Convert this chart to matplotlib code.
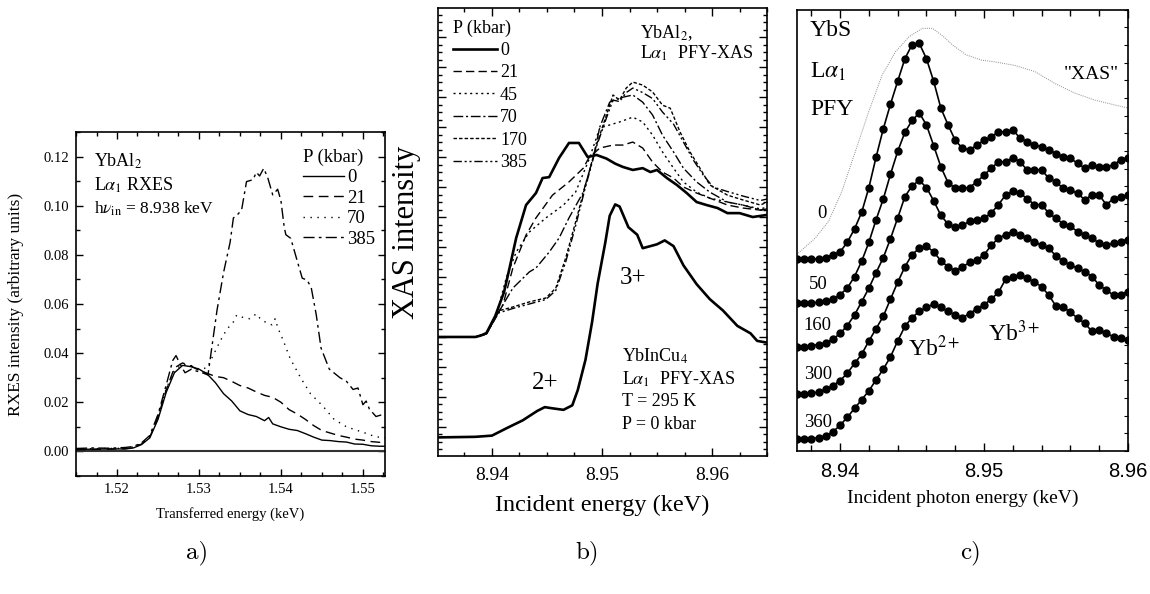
import matplotlib
matplotlib.use('Agg')
import matplotlib.pyplot as plt
from matplotlib.ticker import MultipleLocator, FormatStrFormatter

plt.rcParams['font.family'] = ['Liberation Serif', 'DejaVu Serif']
plt.rcParams['mathtext.fontset'] = 'stix'
plt.rcParams['xtick.direction'] = 'in'
plt.rcParams['ytick.direction'] = 'in'

# ---------------- panel a: RXES of YbAl2 ----------------
e_p0 = [1.515, 1.517, 1.519, 1.521, 1.522, 1.523, 1.524, 1.525, 1.526, 1.527, 1.528, 1.529,
        1.530, 1.531, 1.532, 1.533, 1.534, 1.535, 1.536, 1.537, 1.538, 1.5385, 1.539, 1.540,
        1.541, 1.542, 1.543, 1.544, 1.545, 1.546, 1.547, 1.548, 1.549, 1.550, 1.551, 1.552, 1.5527]
i_p0 = [0.0008, 0.0009, 0.0010, 0.0010, 0.0014, 0.0028, 0.0055, 0.0130, 0.0240, 0.0320, 0.0350, 0.0345,
        0.0335, 0.0315, 0.0280, 0.0235, 0.0205, 0.0165, 0.0150, 0.0142, 0.0125, 0.0138, 0.0112, 0.0100,
        0.0090, 0.0085, 0.0072, 0.0058, 0.0046, 0.0044, 0.0040, 0.0038, 0.0030, 0.0029, 0.0023, 0.0021, 0.0021]

e_p21 = [1.515, 1.517, 1.519, 1.521, 1.522, 1.523, 1.524, 1.525, 1.526, 1.527, 1.528, 1.529,
         1.530, 1.531, 1.532, 1.533, 1.534, 1.535, 1.536, 1.537, 1.538, 1.539, 1.540, 1.541,
         1.542, 1.543, 1.544, 1.545, 1.546, 1.547, 1.548, 1.549, 1.550, 1.551, 1.552, 1.5527]
i_p21 = [0.0007, 0.0008, 0.0009, 0.0011, 0.0015, 0.0030, 0.0058, 0.0140, 0.0250, 0.0340, 0.0360, 0.0348,
         0.0330, 0.0318, 0.0305, 0.0300, 0.0285, 0.0268, 0.0258, 0.0242, 0.0228, 0.0220, 0.0200, 0.0170,
         0.0152, 0.0130, 0.0105, 0.0085, 0.0075, 0.0065, 0.0058, 0.0050, 0.0046, 0.0040, 0.0037, 0.0037]

e_p70 = [1.515, 1.517, 1.519, 1.521, 1.522, 1.523, 1.524, 1.525, 1.526, 1.527, 1.528, 1.529,
         1.530, 1.531, 1.5317, 1.5326, 1.5334, 1.5342, 1.5346, 1.5354, 1.5362, 1.5370, 1.5376,
         1.5382, 1.5389, 1.5393, 1.5396, 1.5403, 1.5411, 1.5424, 1.5436, 1.5451, 1.5465, 1.5480,
         1.5500, 1.5515, 1.5527]
i_p70 = [0.0010, 0.0011, 0.0012, 0.0013, 0.0018, 0.0032, 0.0060, 0.0145, 0.0255, 0.0330, 0.0355, 0.0350,
         0.0335, 0.0340, 0.0389, 0.0450, 0.0497, 0.0527, 0.0555, 0.0545, 0.0540, 0.0560, 0.0535,
         0.0525, 0.0515, 0.0540, 0.0505, 0.0450, 0.0380, 0.0300, 0.0235, 0.0185, 0.0130, 0.0100,
         0.0078, 0.0060, 0.0055]

e_p385 = [1.515, 1.517, 1.519, 1.521, 1.522, 1.523, 1.524, 1.525, 1.526, 1.5268, 1.5272, 1.5277,
          1.5283, 1.5291, 1.5297, 1.5305, 1.5311, 1.5322, 1.5330, 1.5338, 1.5342, 1.5346, 1.5352,
          1.5358, 1.5366, 1.5370, 1.5374, 1.5379, 1.5384, 1.5390, 1.5396, 1.5400, 1.5404, 1.5406,
          1.5412, 1.5420, 1.5426, 1.5432, 1.5437, 1.5443, 1.5449, 1.5459, 1.5472, 1.5480, 1.5488,
          1.5494, 1.5500, 1.5504, 1.5508, 1.5516, 1.5524, 1.5527]
i_p385 = [0.0012, 0.0014, 0.0013, 0.0016, 0.0020, 0.0035, 0.0065, 0.0150, 0.0270, 0.0370, 0.0390, 0.0355,
          0.0320, 0.0335, 0.0327, 0.0319, 0.0311, 0.0574, 0.0728, 0.0851, 0.0950, 0.0960, 0.0982,
          0.1098, 0.1106, 0.1136, 0.1121, 0.1152, 0.1113, 0.1044, 0.1067, 0.1021, 0.0913, 0.0882,
          0.0867, 0.0774, 0.0705, 0.0697, 0.0666, 0.0558, 0.0420, 0.0335, 0.0300, 0.0285, 0.0252,
          0.0258, 0.0190, 0.0205, 0.0172, 0.0142, 0.0150, 0.0148]

# ---------------- panel b: PFY-XAS ----------------
e_b0 = [8.935, 8.9385, 8.9390, 8.9395, 8.9403, 8.9411, 8.9416, 8.9422, 8.9431, 8.9440, 8.9446, 8.9452,
        8.9461, 8.9470, 8.9479, 8.9487, 8.9495, 8.9504, 8.9512, 8.9519, 8.9528, 8.9537, 8.9544, 8.9550,
        8.9559, 8.9568, 8.9577, 8.9586, 8.9595, 8.9605, 8.9614, 8.9625, 8.9637, 8.9650]
i_b0 = [2.0, 2.0, 2.05, 2.13, 2.7, 3.5, 4.3, 5.3, 6.4, 6.8, 7.3, 7.33,
        7.97, 8.47, 8.47, 8.0, 8.07, 7.95, 7.78, 7.67, 7.57, 7.63, 7.5, 7.57,
        7.3, 7.07, 6.8, 6.5, 6.4, 6.3, 6.13, 6.13, 6.0, 6.07]

e_b21 = [8.935, 8.9385, 8.9395, 8.9410, 8.9419, 8.9431, 8.9440, 8.9455, 8.9470, 8.9483, 8.9488, 8.9498,
         8.9510, 8.9519, 8.9528, 8.9537, 8.9546, 8.9555, 8.9565, 8.9574, 8.9586, 8.9598, 8.9614, 8.9628,
         8.9644, 8.9650]
i_b21 = [2.0, 2.0, 2.13, 3.07, 4.3, 5.4, 5.97, 6.73, 7.17, 7.63, 7.97, 8.3,
         8.4, 8.4, 8.5, 8.3, 7.83, 7.5, 7.3, 7.0, 6.8, 6.63, 6.4, 6.3,
         6.23, 6.27]

e_b45 = [8.935, 8.9385, 8.9395, 8.9404, 8.9413, 8.9422, 8.9434, 8.9449, 8.9465, 8.9476, 8.9488, 8.9498,
         8.9507, 8.9516, 8.9528, 8.9537, 8.9546, 8.9555, 8.9565, 8.9574, 8.9586, 8.9598, 8.9614, 8.9628,
         8.9644, 8.9650]
i_b45 = [2.0, 2.0, 2.1, 2.73, 3.97, 4.83, 5.5, 5.97, 6.4, 6.83, 7.9, 8.97,
         9.07, 9.17, 9.33, 9.17, 8.73, 8.17, 7.63, 7.17, 6.83, 6.63, 6.5, 6.4,
         6.27, 6.33]

e_b70 = [8.935, 8.9385, 8.9395, 8.9406, 8.9419, 8.9434, 8.9440, 8.9452, 8.9461, 8.9470, 8.9483, 8.9492,
         8.9498, 8.9507, 8.9516, 8.9528, 8.9537, 8.9546, 8.9555, 8.9565, 8.9574, 8.9586, 8.9598, 8.9614,
         8.9628, 8.9644, 8.9650]
i_b70 = [2.0, 2.0, 2.1, 2.83, 3.63, 4.17, 4.3, 4.83, 5.3, 5.97, 6.83, 7.97,
         9.0, 9.83, 9.97, 10.07, 9.83, 9.4, 8.73, 8.17, 7.63, 7.17, 6.83, 6.5,
         6.4, 6.23, 6.27]

e_b170 = [8.935, 8.9385, 8.9395, 8.9406, 8.9419, 8.9434, 8.9449, 8.9458, 8.9467, 8.9476, 8.9485, 8.9495,
          8.9504, 8.9510, 8.9516, 8.9522, 8.9528, 8.9537, 8.9546, 8.9555, 8.9562, 8.9571, 8.9580, 8.9589,
          8.9598, 8.9614, 8.9628, 8.9644, 8.9650]
i_b170 = [2.0, 2.0, 2.1, 2.87, 3.0, 3.17, 3.3, 3.63, 4.63, 5.83, 7.07, 8.4,
          9.4, 10.07, 9.9, 10.3, 10.5, 10.4, 10.17, 9.73, 9.63, 8.83, 8.17, 7.63,
          7.07, 6.73, 6.57, 6.4, 6.5]

e_b385 = [8.935, 8.9385, 8.9395, 8.9406, 8.9419, 8.9434, 8.9449, 8.9458, 8.9467, 8.9476, 8.9485, 8.9495,
          8.9504, 8.9510, 8.9516, 8.9522, 8.9528, 8.9537, 8.9546, 8.9555, 8.9565, 8.9574, 8.9583, 8.9592,
          8.9601, 8.9614, 8.9628, 8.9644, 8.9650]
i_b385 = [2.0, 2.0, 2.1, 2.8, 2.95, 3.1, 3.25, 3.55, 4.5, 5.7, 7.0, 8.35,
          9.3, 9.9, 9.85, 10.15, 10.3, 10.15, 9.95, 9.5, 9.1, 8.5, 7.9, 7.4,
          7.0, 6.85, 6.7, 6.55, 6.6]

e_cu4 = [8.935, 8.9385, 8.9400, 8.9414, 8.9428, 8.9441, 8.9448, 8.9455, 8.9465, 8.9473, 8.9478, 8.9485,
         8.9491, 8.9496, 8.9503, 8.9507, 8.9512, 8.9516, 8.9524, 8.9532, 8.9537, 8.9544, 8.9550, 8.9557,
         8.9565, 8.9574, 8.9586, 8.9598, 8.9610, 8.9623, 8.9635, 8.9641, 8.9650]
i_cu4 = [-1.35, -1.33, -1.29, -1.03, -0.78, -0.47, -0.34, -0.38, -0.43, -0.28, 0.23, 1.24,
         2.5, 3.77, 5.15, 6.04, 6.42, 6.35, 5.66, 5.41, 4.96, 5.03, 5.09, 5.22,
         5.03, 4.39, 3.76, 3.26, 2.88, 2.37, 2.12, 1.87, 1.81]

# ---------------- panel c: YbS PFY ----------------
energy_c = [8.9370, 8.9375, 8.9380, 8.9385, 8.9390, 8.9395, 8.9400, 8.9405, 8.9410, 8.9415, 8.9420, 8.9425,
            8.9430, 8.9435, 8.9440, 8.9445, 8.9450, 8.9455, 8.9460, 8.9465, 8.9470, 8.9475, 8.9480, 8.9485,
            8.9490, 8.9495, 8.9500, 8.9505, 8.9510, 8.9515, 8.9520, 8.9525, 8.9530, 8.9535, 8.9540, 8.9545,
            8.9550, 8.9555, 8.9560, 8.9565, 8.9570, 8.9575, 8.9580, 8.9585, 8.9590, 8.9595, 8.9600]
pfy_0 = [43.4, 43.4, 43.4, 43.6, 43.8, 44.5, 45.1, 47.3, 50.3, 54.1, 59.7, 66.6, 73.0, 78.6, 83.8, 88.9,
         92.1, 92.4, 88.9, 83.8, 77.7, 73.9, 70.4, 68.6, 68.2, 69.3, 70.4, 71.2, 72.3, 72.3, 72.8, 70.9,
         70.1, 69.3, 69.0, 68.2, 67.4, 66.7, 66.3, 65.2, 64.1, 64.8, 64.4, 64.4, 64.8, 66.0, 66.3]
pfy_50 = [33.5, 33.5, 33.5, 33.7, 33.9, 34.4, 35.4, 36.9, 39.5, 43.0, 47.3, 52.4, 57.1, 62.7, 67.9, 72.2,
          74.9, 76.6, 73.9, 69.2, 64.4, 60.8, 59.5, 59.5, 59.7, 61.0, 62.5, 64.1, 65.5, 65.5, 66.5, 65.5,
          63.7, 63.7, 63.7, 61.8, 61.0, 59.5, 59.1, 58.4, 56.9, 58.0, 58.0, 55.8, 57.2, 57.6, 58.0]
pfy_160 = [23.6, 23.6, 23.8, 24.1, 24.5, 25.3, 26.6, 28.4, 30.8, 33.8, 36.9, 40.4, 43.8, 48.1, 52.8, 57.6,
           60.1, 61.3, 59.7, 56.7, 53.4, 51.4, 50.7, 51.2, 52.0, 52.3, 52.7, 53.9, 55.8, 58.0, 58.8, 58.4,
           57.2, 55.8, 55.8, 53.9, 52.7, 51.5, 50.9, 49.7, 49.0, 48.2, 47.1, 46.6, 47.1, 47.4, 47.8]
pfy_300 = [12.9, 12.9, 13.1, 13.3, 13.9, 14.8, 15.9, 17.6, 19.8, 21.9, 24.9, 27.7, 30.5, 34.4, 38.2, 41.7,
           44.5, 45.9, 46.4, 45.1, 43.1, 41.7, 40.8, 41.7, 42.7, 43.3, 44.4, 46.6, 48.2, 49.0, 49.7, 49.0,
           48.2, 47.4, 46.6, 45.9, 44.2, 43.0, 42.1, 41.4, 40.6, 39.5, 37.6, 36.4, 35.3, 35.3, 36.1]
pfy_360 = [2.6, 2.6, 2.7, 3.0, 3.4, 4.3, 5.8, 7.6, 9.6, 11.6, 13.6, 16.1, 18.5, 21.3, 24.9, 28.2,
           30.2, 31.6, 32.5, 33.3, 32.5, 31.6, 30.8, 30.2, 31.1, 32.2, 33.1, 34.4, 35.9, 38.9, 39.5, 39.8,
           39.1, 38.3, 37.2, 35.3, 32.8, 32.6, 31.4, 30.1, 28.9, 27.1, 27.4, 26.6, 25.9, 25.5, 25.1]
pressures_c = ['0', '50', '160', '300', '360']

xas_e = [8.93709, 8.93826, 8.93919, 8.94012, 8.94106, 8.94199, 8.94292, 8.94385, 8.94479, 8.94572,
         8.94642, 8.94712, 8.94782, 8.94875, 8.94980, 8.95073, 8.95213, 8.95353, 8.95492, 8.95632,
         8.95772, 8.95912, 8.96014]
xas_i = [44.8, 48.2, 52.0, 58.8, 67.9, 76.9, 85.2, 90.5, 93.9, 95.8,
         95.8, 94.1, 92.0, 89.8, 88.6, 88.2, 87.4, 86.0, 83.3, 81.1,
         79.5, 78.4, 77.6]

fig = plt.figure(figsize=(11.5, 5.94), dpi=100)

# ================= a =================
ax1 = fig.add_axes([0.0661, 0.1987, 0.2687, 0.5791])
ax1.axhline(0, color='#333333', lw=1.5)
ax1.plot(e_p0, i_p0, color='black', lw=1.0, ls='-', label='0')
ax1.plot(e_p21, i_p21, color='black', lw=1.0, ls=(0, (7, 4)), label='21')
ax1.plot(e_p70, i_p70, color='black', lw=1.0, ls=(0, (1, 4)), label='70')
ax1.plot(e_p385, i_p385, color='black', lw=1.0, ls=(0, (8, 3, 2, 3)), label='385')
ax1.set_xlim(1.515, 1.5527)
ax1.set_ylim(-0.01, 0.13)
ax1.xaxis.set_major_locator(MultipleLocator(0.01))
ax1.xaxis.set_minor_locator(MultipleLocator(0.0025))
ax1.xaxis.set_major_formatter(FormatStrFormatter('%.2f'))
ax1.yaxis.set_major_locator(MultipleLocator(0.02))
ax1.yaxis.set_minor_locator(MultipleLocator(0.01))
ax1.yaxis.set_major_formatter(FormatStrFormatter('%.2f'))
ax1.tick_params(which='both', top=True, right=True, labelsize=10.5, pad=5, width=1)
ax1.tick_params(which='major', length=5)
ax1.tick_params(which='minor', length=3)
ax1.set_xlabel('Transferred energy (keV)', fontsize=10.5, labelpad=8)
ax1.set_ylabel('RXES intensity (arbitrary units)', fontsize=12.5, labelpad=14)
for s in ax1.spines.values():
    s.set_linewidth(1.2)
ax1.text(1.5172, 0.1179, 'YbAl$_2$', fontsize=13, va='center')
ax1.text(1.5172, 0.1081, r'L$\alpha_1$ RXES', fontsize=13, va='center')
ax1.text(1.5172, 0.0988, r'h$\nu_{\rm in}$ = 8.938 keV', fontsize=12.5, va='center')
ax1.legend(title='P (kbar)', loc='upper left', bbox_to_anchor=(0.735, 0.952), frameon=False,
           fontsize=13.5, title_fontsize=13.5, handlelength=2.2, handletextpad=0.15,
           labelspacing=0.18, borderpad=0, borderaxespad=0, alignment='left')

# ================= b =================
ax2 = fig.add_axes([0.3809, 0.2323, 0.2861, 0.7542])
ax2.plot(e_b0, i_b0, color='black', lw=1.9, ls='-', label='0')
ax2.plot(e_b21, i_b21, color='black', lw=1.0, ls=(0, (6, 3)), label='21')
ax2.plot(e_b45, i_b45, color='black', lw=1.0, ls=(0, (1.5, 2.5)), label='45')
ax2.plot(e_b70, i_b70, color='black', lw=1.0, ls=(0, (7, 2, 1.5, 2)), label='70')
ax2.plot(e_b170, i_b170, color='black', lw=1.0, ls=(0, (2.5, 1.5)), label='170')
ax2.plot(e_b385, i_b385, color='black', lw=1.0, ls=(0, (6, 2, 1.5, 2, 1.5, 2)), label='385')
ax2.plot(e_cu4, i_cu4, color='black', lw=1.9, ls='-')
ax2.set_xlim(8.9351, 8.965)
ax2.set_ylim(-1.97, 12.97)
ax2.xaxis.set_major_locator(MultipleLocator(0.01))
ax2.xaxis.set_minor_locator(MultipleLocator(0.0025))
ax2.xaxis.set_major_formatter(FormatStrFormatter('%.2f'))
ax2.yaxis.set_major_locator(MultipleLocator(1))
ax2.yaxis.set_minor_locator(MultipleLocator(0.25))
ax2.tick_params(which='both', top=True, right=True, labelleft=False, labelsize=14, pad=8, width=1)
ax2.tick_params(which='major', length=6)
ax2.tick_params(which='minor', length=3)
ax2.set_xlabel('Incident energy (keV)', fontsize=17.5, labelpad=8)
ax2.set_ylabel('XAS intensity', fontsize=22, labelpad=12)
for s in ax2.spines.values():
    s.set_linewidth(1.2)
ax2.legend(title='P (kbar)', loc='upper left', bbox_to_anchor=(0.046, 0.975), frameon=False,
           fontsize=13, title_fontsize=13, handlelength=2.4, handletextpad=0.2,
           labelspacing=0.3, borderpad=0, borderaxespad=0, alignment='left')
ax2.text(0.614, 0.944, 'YbAl$_2$,', transform=ax2.transAxes, fontsize=13, va='center')
ax2.text(0.614, 0.900, r'L$\alpha_1$  PFY-XAS', transform=ax2.transAxes, fontsize=13, va='center')
ax2.text(0.593, 0.397, '3+', transform=ax2.transAxes, fontsize=18, ha='center', va='center')
ax2.text(0.325, 0.163, '2+', transform=ax2.transAxes, fontsize=18, ha='center', va='center')
ax2.text(0.559, 0.223, 'YbInCu$_4$', transform=ax2.transAxes, fontsize=13, va='center')
ax2.text(0.559, 0.172, r'L$\alpha_1$  PFY-XAS', transform=ax2.transAxes, fontsize=13, va='center')
ax2.text(0.559, 0.121, 'T = 295 K', transform=ax2.transAxes, fontsize=13, va='center')
ax2.text(0.559, 0.071, 'P = 0 kbar', transform=ax2.transAxes, fontsize=13, va='center')

# ================= c =================
ax3 = fig.add_axes([0.6930, 0.2411, 0.2878, 0.7424])
ax3.plot(xas_e, xas_i, color='#8c8c8c', lw=0.7, ls=(0, (1, 1.2)))
for vals in [pfy_0, pfy_50, pfy_160, pfy_300, pfy_360]:
    ax3.plot(energy_c, vals, color='black', lw=1.2, marker='o', ms=5)
ax3.set_xlim(8.937, 8.96)
ax3.set_ylim(0, 100)
ax3.xaxis.set_major_locator(MultipleLocator(0.01))
ax3.xaxis.set_minor_locator(MultipleLocator(0.002))
ax3.xaxis.set_major_formatter(FormatStrFormatter('%.2f'))
ax3.yaxis.set_major_locator(MultipleLocator(4))
ax3.tick_params(axis='x', which='both', top=True, width=1)
ax3.tick_params(axis='x', which='major', length=6, labelsize=14.5, pad=8)
ax3.tick_params(axis='x', which='minor', length=4)
ax3.tick_params(axis='y', left=False, right=True, labelleft=False, length=3, width=0.8)
for lab in ax3.get_xticklabels():
    lab.set_fontfamily('Liberation Sans')
ax3.set_xlabel('Incident photon energy (keV)', fontsize=14, labelpad=6)
for s in ax3.spines.values():
    s.set_linewidth(1.2)
ax3.text(8.93791, 95.4, 'YbS', fontsize=17, va='center')
ax3.text(8.93791, 86.0, r'L$\alpha_1$', fontsize=17, va='center')
ax3.text(8.93791, 77.3, 'PFY', fontsize=17, va='center')
label_y = [53.7, 37.8, 28.3, 17.4, 6.5]
label_x = [8.93875, 8.93847, 8.93840, 8.93847, 8.93847]
for lx, ly, p in zip(label_x, label_y, pressures_c):
    ax3.text(lx, ly, p, fontsize=13.5, ha='center', va='center')
ax3.text(8.95749, 85.4, '"XAS"', fontsize=14, ha='center', va='center')
ax3.text(8.94653, 23.2, 'Yb$^{2+}$', fontsize=17, ha='center', va='center')
ax3.text(8.95213, 26.6, 'Yb$^{3+}$', fontsize=17, ha='center', va='center')

# panel letters
for x, s in [(0.1713, 'a)'), (0.5104, 'b)'), (0.8435, 'c)')]:
    fig.text(x, 0.069, s, fontsize=18, family='cmr10', ha='center', va='center')

fig.savefig('out.png', dpi=100)
